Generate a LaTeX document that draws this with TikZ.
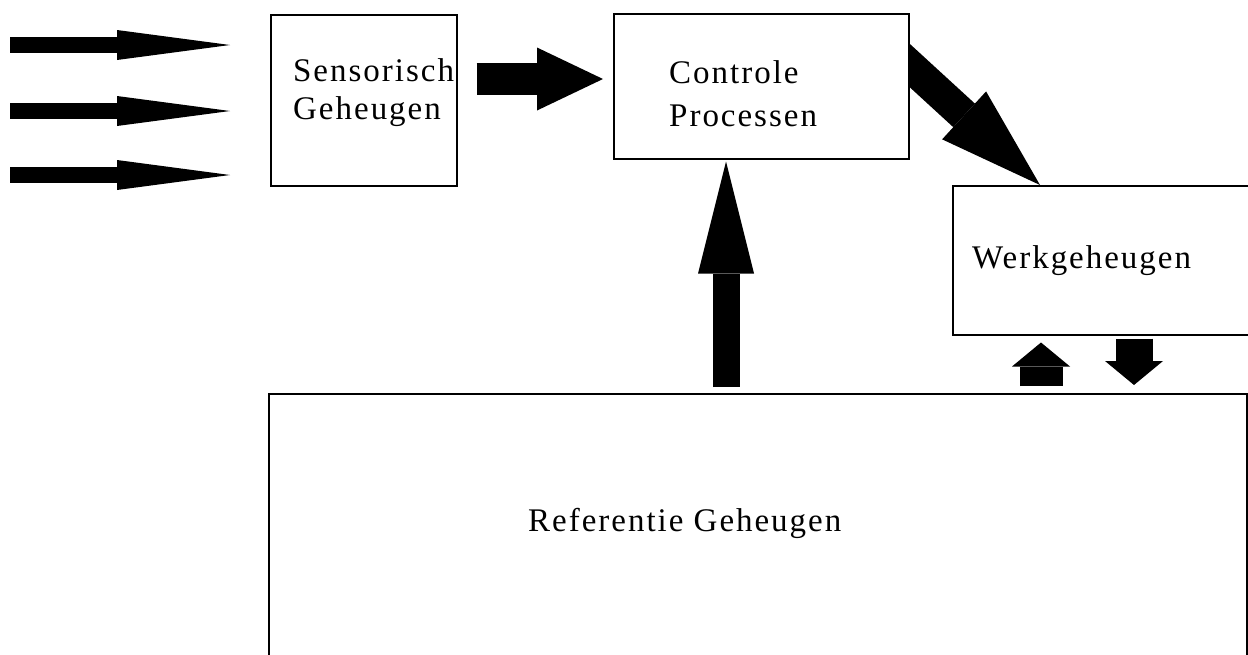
\documentclass[tikz,border=0pt]{standalone}
\usepackage{fontspec}
\newfontfamily\lblfont[LetterSpace=6]{Liberation Serif}
\usetikzlibrary{arrows.meta,calc,backgrounds}

\tikzset{
  box/.style={draw, line width=1.5pt, fill=white, inner sep=0pt, anchor=north west},
  lbl/.style={anchor=base west, align=left, inner sep=0pt,
    font=\lblfont\fontsize{33}{38}\selectfont},
  feed/.style={line width=16pt, -{Triangle[length=113pt,width=30pt,line width=0pt]}},
  push/.style={line width=32pt, -{Triangle[length=66pt,width=63pt,line width=0pt]}},
  lift/.style={line width=27pt, -{Triangle[length=112pt,width=56pt,line width=0pt]}},
  swap/.style={line width=#1, -{Triangle[length=24pt,width=58pt,line width=0pt]}},
}

\begin{document}
\begin{tikzpicture}[x=1pt,y=-1pt]
    \useasboundingbox (0,0) rectangle (1248,654);

    %% Boxes
    \node[box, minimum width=186pt, minimum height=171pt] (sens) at (270,14) {};
    \node[box, minimum width=295pt, minimum height=145pt] (ctrl) at (613,13) {};
    \node[box, minimum width=320pt, minimum height=149pt] (werk) at (952,185) {};
    \node[box, minimum width=978pt, minimum height=300pt] (ref) at (268,393) {};

    %% Labels (base anchor sits on the last line)
    \node[lbl] (sensT) at (293,119) {Sensorisch\\Geheugen};
    \node[lbl] (ctrlT) at (669,126) {Controle\\[5pt]Processen};
    \node[lbl] (werkT) at (972,268) {Werkgeheugen};
    \node[lbl] (refT) at (528,531) {Referentie Geheugen};

    %% Incoming stimuli
    \foreach \y [count=\i] in {45,111,175} {
        \coordinate (in\i) at (10,\y);
        \coordinate (out\i) at (230,\y);
        \draw[feed] (in\i) -- (out\i);
    }

    %% Sensorisch -> Controle
    \coordinate (lvl) at (0,79);
    \draw[push, shorten <=19pt, shorten >=10pt] (sens.east |- lvl) -- (ctrl.west |- lvl);

    %% Referentie -> Controle
    \coordinate (col) at (726,0);
    \draw[lift, shorten <=6pt, shorten >=2pt] (ref.north -| col) -- (ctrl.south -| col);

    %% Controle -> Werkgeheugen (starts behind the box)
    \coordinate (dstart) at (871,30);
    \begin{pgfonlayer}{background}
        \draw[push, -{Triangle[length=103pt,width=65pt,line width=0pt]}]
            (dstart) -- ($(werk.north west)+(88,0)$);
    \end{pgfonlayer}

    %% Werkgeheugen <-> Referentie
    \coordinate (upc) at (1041,0);
    \coordinate (dnc) at (1134,0);
    \draw[swap=43pt, shorten <=7pt, shorten >=7pt] (ref.north -| upc) -- (werk.south -| upc);
    \draw[swap=37pt, shorten <=3pt, shorten >=8pt] (werk.south -| dnc) -- (ref.north -| dnc);
\end{tikzpicture}
\end{document}
